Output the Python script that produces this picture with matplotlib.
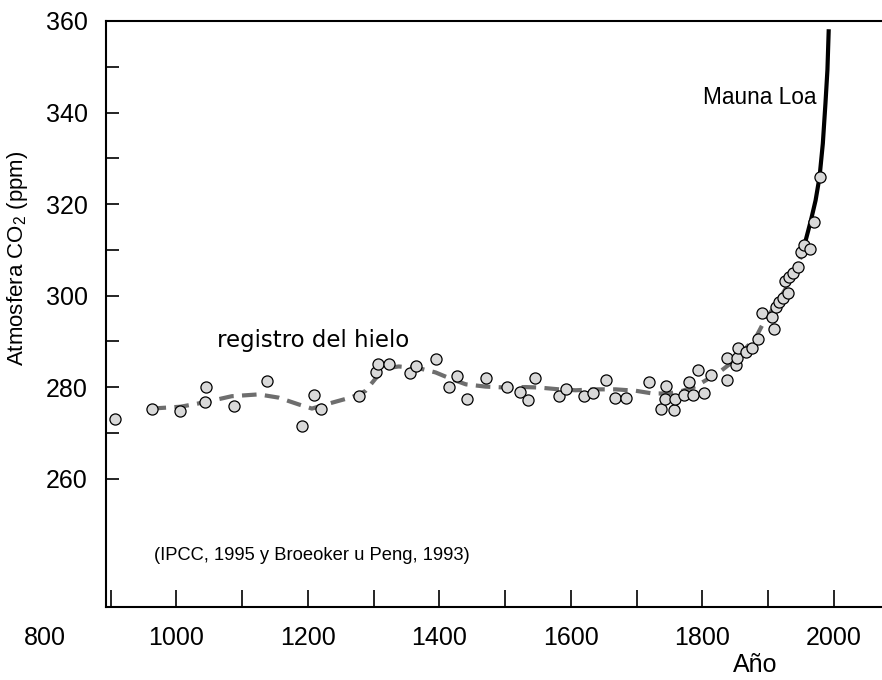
import matplotlib
matplotlib.use('Agg')
import matplotlib.pyplot as plt

plt.rcParams['font.family'] = ['Liberation Sans', 'DejaVu Sans']
plt.rcParams['mathtext.fontset'] = 'custom'
plt.rcParams['mathtext.rm'] = 'Liberation Sans'
plt.rcParams['mathtext.it'] = 'Liberation Sans'

# ice core measurements (year, ppm)
ice_years = [906, 963, 1006, 1044, 1045, 1087, 1137, 1191, 1209, 1220, 1277,
             1303, 1307, 1323, 1355, 1365, 1394, 1414, 1426, 1442, 1471, 1502,
             1522, 1535, 1546, 1581, 1592, 1620, 1633, 1653, 1667, 1684, 1719,
             1737, 1743, 1745, 1756, 1758, 1772, 1779, 1786, 1793, 1803, 1813,
             1837, 1838, 1851, 1853, 1854, 1866, 1875, 1885, 1890, 1905, 1908,
             1912, 1917, 1923, 1926, 1930, 1932, 1938, 1945, 1950, 1955, 1963,
             1970, 1978]
ice_ppm = [273.1, 275.2, 274.8, 276.7, 280.0, 275.9, 281.3, 271.5, 278.3, 275.3, 278.1,
           283.3, 285.0, 285.0, 283.0, 284.6, 286.1, 280.1, 282.4, 277.5, 281.9, 280.1,
           279.0, 277.2, 281.9, 278.1, 279.5, 278.1, 278.7, 281.5, 277.7, 277.6, 281.0,
           275.3, 277.5, 280.2, 274.9, 277.3, 278.2, 281.1, 278.2, 283.7, 278.8, 282.6,
           281.5, 286.3, 284.8, 286.4, 288.5, 287.7, 288.6, 290.5, 296.2, 295.3, 292.6,
           297.6, 298.6, 299.5, 303.1, 300.6, 304.0, 305.0, 306.2, 309.6, 311.0, 310.1,
           316.1, 325.8]

# smoothed ice record
smooth_years = [962, 1006, 1044, 1084, 1125, 1155, 1186, 1206, 1237, 1267, 1287,
                1303, 1318, 1338, 1369, 1394, 1419, 1440, 1470, 1500, 1531, 1551,
                1582, 1607, 1638, 1668, 1698, 1724, 1749, 1770, 1790, 1810, 1826,
                1851, 1882, 1894, 1912, 1932, 1946, 1953]
smooth_ppm = [275.3, 275.7, 276.7, 278.0, 278.4, 277.7, 276.2, 275.3, 276.6, 277.8, 279.1,
              281.9, 284.1, 284.5, 284.1, 283.2, 281.7, 280.6, 280.1, 279.9, 280.0, 279.9,
              279.5, 279.3, 279.5, 279.5, 279.2, 278.6, 278.6, 279.2, 280.2, 281.9, 283.3,
              286.1, 291.1, 294.4, 298.1, 302.8, 307.2, 309.5]

# Mauna Loa record
ml_years = [1952, 1957, 1965, 1972, 1978, 1983, 1987, 1990, 1992]
ml_ppm = [310.5, 312.1, 316.5, 320.8, 325.9, 333.2, 342.0, 349.3, 358.2]

fig = plt.figure(figsize=(8.82, 6.8), dpi=100)
ax = fig.add_axes([106 / 882, 1 - 606.7 / 680, 1 - 106 / 882, (606.7 - 21) / 680])

ax.plot(smooth_years, smooth_ppm, color='#6e6e6e', lw=3, dashes=(3.5, 2.0), zorder=2)
ax.plot(ml_years, ml_ppm, color='black', lw=3, solid_capstyle='butt', zorder=2)
ax.plot(ice_years, ice_ppm, 'o', ms=8, mfc='#d9d9d9', mec='black', mew=0.9, zorder=3)

ax.set_xlim(892.8, 2073)
ax.set_ylim(232, 360)

ax.set_xticks(range(900, 2001, 100))
ax.set_xticklabels(['' if y % 200 else str(y) for y in range(900, 2001, 100)])
ax.set_yticks(range(260, 361, 10))
ax.set_yticklabels([str(v) if v % 20 == 0 else '' for v in range(260, 361, 10)])
ax.tick_params(axis='x', direction='in', length=12, width=1.2, pad=14, labelsize=18)
ax.tick_params(axis='y', direction='in', length=9.5, width=1.2, pad=13, labelsize=18)

for s in ['left', 'top', 'bottom']:
    ax.spines[s].set_linewidth(1.5)
ax.spines['right'].set_visible(False)

# 800 sits left of the axes, outside the x range
ax.annotate('800', xy=(800, 0), xycoords=('data', 'axes fraction'),
            xytext=(0, -14), textcoords='offset points',
            ha='center', va='top', fontsize=18, annotation_clip=False)

fig.text(755 / 882, 1 - 665 / 680, 'Año', ha='center', va='center', fontsize=18)
fig.text(18 / 882, 1 - 258 / 680, 'Atmosfera CO$_2$ (ppm)', rotation=90,
         ha='center', va='center', fontsize=16)

fig.text(313 / 882, 1 - 340 / 680, 'registro del hielo', family='DejaVu Sans',
         ha='center', va='center', fontsize=16.5)
fig.text(760 / 882, 1 - 98 / 680, 'Mauna Loa', ha='center', va='center', fontsize=16.3)
fig.text(312 / 882, 1 - 555 / 680, '(IPCC, 1995 y Broeoker u Peng, 1993)',
         ha='center', va='center', fontsize=13.2)

fig.savefig('out.png', dpi=100)
